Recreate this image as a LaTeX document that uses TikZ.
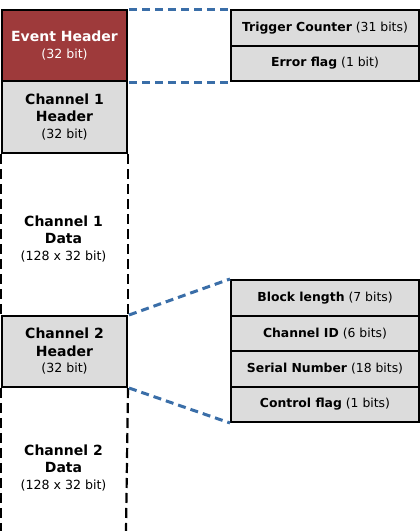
\documentclass[tikz,border=0pt]{standalone}
\usepackage{fontspec}
\setmainfont{DejaVu Sans}
\definecolor{evred}{HTML}{9E3A3B}
\definecolor{boxgray}{HTML}{DCDCDC}
\definecolor{linkblue}{HTML}{3A6EA8}
\newcommand{\ttlf}{\fontsize{14}{17.5}\selectfont\bfseries}
\newcommand{\subf}{\fontsize{12.6}{14}\selectfont\mdseries}
\newcommand{\fldf}{\fontsize{12.4}{15}\selectfont}
\begin{document}
\begin{tikzpicture}[x=1pt,y=-1pt,
  blk/.style={draw=black,line width=2pt,minimum width=125pt,inner sep=0pt,align=center,anchor=north west,font=\ttlf},
  lbl/.style={inner sep=0pt,align=center,font=\ttlf},
  fld/.style={draw=black,line width=2pt,fill=boxgray,minimum width=188pt,minimum height=35.5pt,inner sep=0pt,anchor=north west,font=\fldf},
  link/.style={draw=linkblue,line width=3pt,dash pattern=on 8pt off 5pt},
  side/.style={draw=black,line width=2.2pt,dash pattern=on 10pt off 5pt}]
\useasboundingbox (0,0) rectangle (420,531);
% left column
\node[blk,fill=evred,text=white,minimum height=71pt] (eh) at (1,9)
  {\ttlf Event Header\\[-1pt]\subf (32 bit)};
\node[blk,fill=boxgray,minimum height=72pt] (c1h) at (1,80)
  {\ttlf Channel 1\\\ttlf Header\\[-1pt]\subf (32 bit)};
\node[blk,fill=boxgray,minimum height=71pt] (c2h) at (1,315)
  {\ttlf Channel 2\\\ttlf Header\\[-1pt]\subf (32 bit)};
\node[lbl] (c1d) at (63.5,239)
  {\ttlf Channel 1\\\ttlf Data\\[-1pt]\subf (128 x 32 bit)};
\node[lbl] (c2d) at (63.5,468)
  {\ttlf Channel 2\\\ttlf Data\\[-1pt]\subf (128 x 32 bit)};
\coordinate (bl1) at (1,531);
\coordinate (br1) at (126,531);
\draw[side] (c1h.south west) -- (c2h.north west);
\draw[side] (c1h.south east) -- (c2h.north east);
\draw[side] (c2h.south west) -- (bl1);
\draw[side] (c2h.south east) -- (br1);
% right: event header fields
\node[fld] (tc) at (230,9) {\textbf{Trigger Counter} (31 bits)};
\node[fld] (ef) at (230,44.5) {\textbf{Error flag} (1 bit)};
% right: channel header fields
\node[fld] (bl) at (230,279) {\textbf{Block length} (7 bits)};
\node[fld] (ci) at (230,314.5) {\textbf{Channel ID} (6 bits)};
\node[fld] (sn) at (230,350) {\textbf{Serial Number} (18 bits)};
\node[fld] (cf) at (230,385.5) {\textbf{Control flag} (1 bits)};
% links
\draw[link] ([xshift=1pt]eh.north east) -- (tc.north west);
\draw[link] ([xshift=1pt]eh.south east) -- (ef.south west);
\draw[link] ([xshift=1pt]c2h.north east) -- (bl.north west);
\draw[link] ([xshift=1pt]c2h.south east) -- (cf.south west);
\end{tikzpicture}
\end{document}
